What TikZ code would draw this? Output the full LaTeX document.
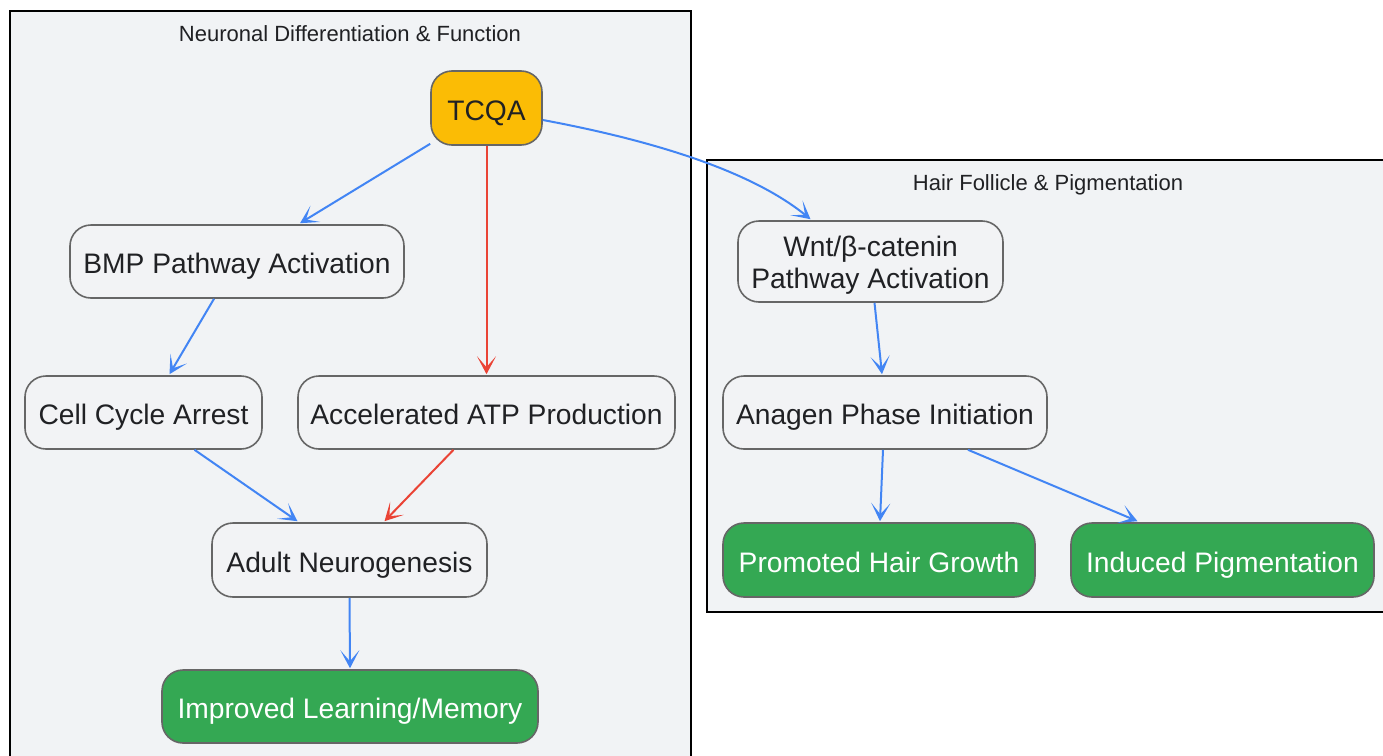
\documentclass[tikz,border=0pt]{standalone}
\usepackage{fontspec}
\setmainfont{Liberation Sans}
\usetikzlibrary{arrows.meta}
\definecolor{clfill}{HTML}{F1F3F5}
\definecolor{ndfill}{HTML}{F2F3F5}
\definecolor{ndline}{HTML}{666666}
\definecolor{txt}{HTML}{202124}
\definecolor{amber}{HTML}{FBBC05}
\definecolor{grn}{HTML}{34A853}
\definecolor{blu}{HTML}{4285F4}
\definecolor{rd}{HTML}{EA4335}
\tikzset{
  box/.style={draw=ndline, line width=1.6pt, fill=ndfill, rounded corners=21pt, text=txt,
    font=\fontsize{28.2}{32}\selectfont, inner sep=0pt, align=center, text height=24pt, text depth=0pt},
  twoline/.style={box, text height=, text depth=},
  goal/.style={box, fill=grn, text=white},
  src/.style={box, fill=amber},
  cluster/.style={draw=black, line width=1.6pt, fill=clfill},
  ctitle/.style={font=\fontsize{22}{26}\selectfont, text=txt},
  ab/.style={draw=blu, line width=2pt, -{Stealth[length=18pt,width=19pt,inset=11pt]}},
  ar/.style={draw=rd, line width=2pt, -{Stealth[length=18pt,width=19pt,inset=11pt]}},
}
\begin{document}
\begin{tikzpicture}[x=1pt,y=-1pt]
\useasboundingbox (0,0) rectangle (1383,755);
\clip (0,0) rectangle (1383,755);
\fill[white] (0,0) rectangle (1383,755);
\draw[cluster] (10,11) rectangle (691,775);
\draw[cluster] (707,160) rectangle (1395,612);
\node[ctitle] (t1) at (350,33.5) {Neuronal Differentiation \& Function};
\node[ctitle] (t2) at (1048,185) {Hair Follicle \& Pigmentation};

\node[src, minimum width=111pt, minimum height=74pt] (tcqa) at (486.5,108) {TCQA};
\node[box, minimum width=334pt, minimum height=73pt] (bmp) at (237,261.5) {BMP Pathway Activation};
\node[box, minimum width=237pt, minimum height=73pt] (cell) at (143.5,412.5) {Cell Cycle Arrest};
\node[box, minimum width=377pt, minimum height=73pt] (atp) at (486.5,412.5) {Accelerated ATP Production};
\node[box, minimum width=275pt, minimum height=74pt] (adult) at (349.5,560) {Adult Neurogenesis};
\node[goal, minimum width=376pt, minimum height=73pt] (learn) at (350,706.5) {Improved Learning/Memory};

\node[twoline, minimum width=265pt, minimum height=81pt] (wnt) at (870.5,261.5) {\rule{0pt}{28pt}Wnt/β-catenin\\Pathway Activation};
\node[box, minimum width=324pt, minimum height=73pt] (anagen) at (885,412.5) {Anagen Phase Initiation};
\node[goal, minimum width=312pt, minimum height=74pt] (hair) at (879,560) {Promoted Hair Growth};
\node[goal, minimum width=303pt, minimum height=74pt] (pig) at (1222.5,560) {Induced Pigmentation};

\draw[ab] ([yshift=2pt]tcqa.south west) -- ([xshift=63pt,yshift=1pt]bmp.north);
\draw[ar] (tcqa.south) -- ([yshift=1pt]atp.north);
\draw[ab] (tcqa.east) ++(0,12) .. controls (650,140) and (750,170) .. ([xshift=-60pt,yshift=1pt]wnt.north);
\draw[ab] ([xshift=-23pt]bmp.south) -- ([xshift=26pt,yshift=1pt]cell.north);
\draw[ab] ([xshift=51pt]cell.south) -- ([xshift=-52pt,yshift=1pt]adult.north);
\draw[ar] ([xshift=-33pt]atp.south) -- ([xshift=35pt,yshift=1pt]adult.north);
\draw[ab] (adult.south) -- ([yshift=1pt]learn.north);
\draw[ab] ([xshift=4pt]wnt.south) -- ([xshift=-3pt,yshift=1pt]anagen.north);
\draw[ab] ([xshift=-2pt]anagen.south) -- ([xshift=1pt,yshift=1pt]hair.north);
\draw[ab] ([xshift=83pt]anagen.south) -- ([xshift=-85pt,yshift=1pt]pig.north);
\end{tikzpicture}
\end{document}
